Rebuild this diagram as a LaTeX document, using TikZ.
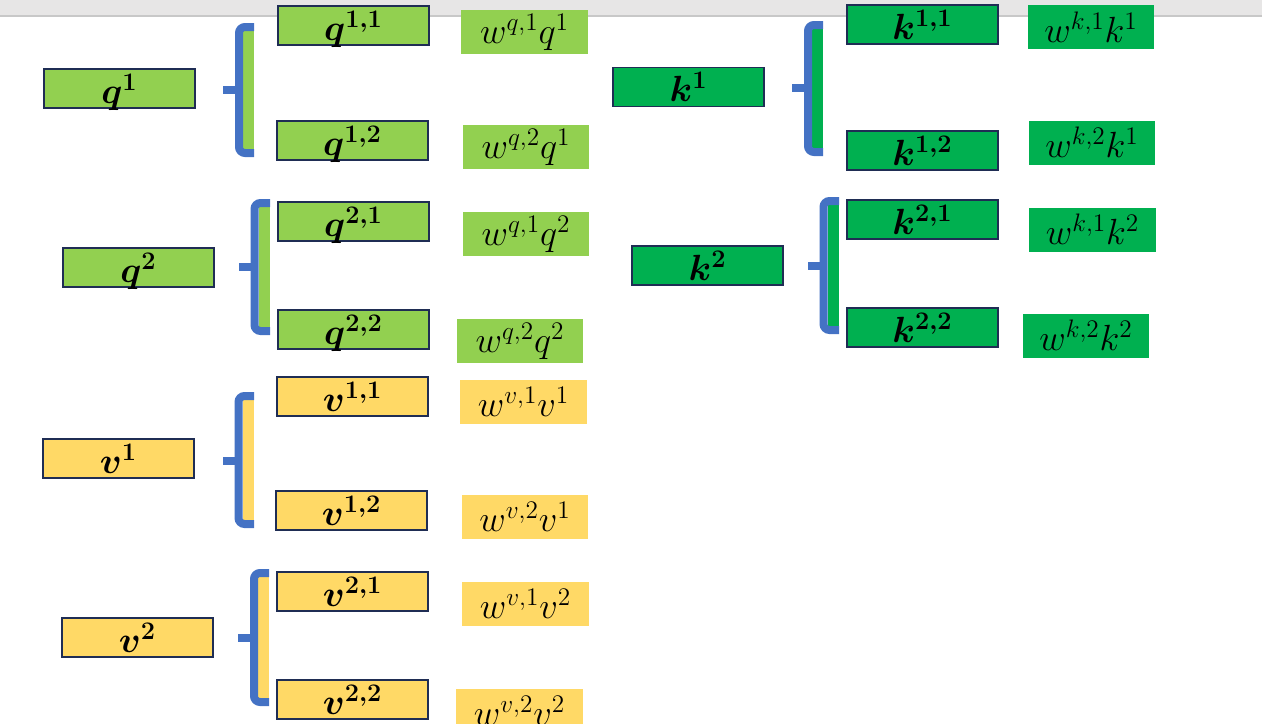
\documentclass[tikz,border=0pt]{standalone}
\usepackage{amsmath,amssymb}
\usepackage{tikz}
\usetikzlibrary{positioning}
\definecolor{qgreen}{RGB}{146,208,80}
\definecolor{kgreen}{RGB}{0,176,80}
\definecolor{vyellow}{RGB}{255,217,102}
\definecolor{braceblue}{RGB}{68,114,196}
\definecolor{boxline}{RGB}{31,45,84}
\definecolor{topgray}{RGB}{231,230,230}
\definecolor{topline}{RGB}{200,200,200}

\begin{document}
\begin{tikzpicture}[
    x=0.02cm, y=-0.02cm,
    box/.style={draw=boxline, line width=0.7pt, minimum width=3.02cm, minimum height=0.78cm, inner sep=0pt, text depth=0pt, font=\fontsize{21}{24}\selectfont},
    wlabel/.style={minimum width=2.54cm, minimum height=0.88cm, inner sep=0pt, font=\fontsize{21}{24}\selectfont},
    bracearm/.style={draw=braceblue, line width=0.16cm, rounded corners=0.12cm},
    bracetip/.style={draw=braceblue, line width=0.17cm}
]
\useasboundingbox (0,0) rectangle (1262,724);
\fill[topgray] (0,0) rectangle (1262,16);
\draw[topline, line width=0.6pt] (0,16) -- (1262,16);

% query heads
\node[box, fill=qgreen] (q1) at (119.5,88.5) {$\boldsymbol{q^{1}}$};
\node[box, fill=qgreen] (q11) at (353.5,25.5) {$\boldsymbol{q^{1,1}}$};
\node[box, fill=qgreen] (q12) at (352.5,140.5) {$\boldsymbol{q^{1,2}}$};
\node[wlabel, fill=qgreen] (wq1q1) at (524.5,32) {$w^{q,1}q^{1}$};
\node[wlabel, fill=qgreen] (wq2q1) at (526,147) {$w^{q,2}q^{1}$};

\node[box, fill=qgreen] (q2) at (138.5,267.5) {$\boldsymbol{q^{2}}$};
\node[box, fill=qgreen] (q21) at (353.5,221.5) {$\boldsymbol{q^{2,1}}$};
\node[box, fill=qgreen] (q22) at (353.5,329.5) {$\boldsymbol{q^{2,2}}$};
\node[wlabel, fill=qgreen] (wq1q2) at (526,234) {$w^{q,1}q^{2}$};
\node[wlabel, fill=qgreen] (wq2q2) at (520,341) {$w^{q,2}q^{2}$};

% value heads
\node[box, fill=vyellow] (v1) at (118.5,458.5) {$\boldsymbol{v^{1}}$};
\node[box, fill=vyellow] (v11) at (352.5,396.5) {$\boldsymbol{v^{1,1}}$};
\node[box, fill=vyellow] (v12) at (351.5,510.5) {$\boldsymbol{v^{1,2}}$};
\node[wlabel, fill=vyellow] (wv1v1) at (523.5,402) {$w^{v,1}v^{1}$};
\node[wlabel, fill=vyellow] (wv2v1) at (525,517) {$w^{v,2}v^{1}$};

\node[box, fill=vyellow] (v2) at (137.5,637.5) {$\boldsymbol{v^{2}}$};
\node[box, fill=vyellow] (v21) at (352.5,591.5) {$\boldsymbol{v^{2,1}}$};
\node[box, fill=vyellow] (v22) at (352.5,699.5) {$\boldsymbol{v^{2,2}}$};
\node[wlabel, fill=vyellow] (wv1v2) at (525.5,604) {$w^{v,1}v^{2}$};
\node[wlabel, fill=vyellow] (wv2v2) at (519.5,711) {$w^{v,2}v^{2}$};

% key heads
\node[box, fill=kgreen] (k1) at (688.5,87) {$\boldsymbol{k^{1}}$};
\node[box, fill=kgreen] (k11) at (922.5,24.5) {$\boldsymbol{k^{1,1}}$};
\node[box, fill=kgreen] (k12) at (922.5,150.5) {$\boldsymbol{k^{1,2}}$};
\node[wlabel, fill=kgreen] (wk1k1) at (1091,27) {$w^{k,1}k^{1}$};
\node[wlabel, fill=kgreen] (wk2k1) at (1092,142.5) {$w^{k,2}k^{1}$};

\node[box, fill=kgreen] (k2) at (707.5,265.5) {$\boldsymbol{k^{2}}$};
\node[box, fill=kgreen] (k21) at (922.5,219.5) {$\boldsymbol{k^{2,1}}$};
\node[box, fill=kgreen] (k22) at (922.5,327.5) {$\boldsymbol{k^{2,2}}$};
\node[wlabel, fill=kgreen] (wk1k2) at (1092.5,229.5) {$w^{k,1}k^{2}$};
\node[wlabel, fill=kgreen] (wk2k2) at (1086,335.5) {$w^{k,2}k^{2}$};

% braces
\fill[qgreen] (243,31) rectangle (254,149);
\draw[bracearm] (254,27) -- (239,27) -- (239,153) -- (254,153);
\draw[bracetip] (223,90) -- (239,90);

\fill[qgreen] (258.5,207) rectangle (270,327);
\draw[bracearm] (270,203) -- (254.5,203) -- (254.5,331) -- (270,331);
\draw[bracetip] (239,267) -- (254.5,267);

\fill[vyellow] (242.5,400) rectangle (254,520);
\draw[bracearm] (254,396) -- (238.5,396) -- (238.5,524) -- (254,524);
\draw[bracetip] (223,461) -- (238.5,461);

\fill[vyellow] (258,577) rectangle (269,698);
\draw[bracearm] (269,573) -- (254,573) -- (254,702) -- (269,702);
\draw[bracetip] (238,638) -- (254,638);

\fill[kgreen] (812,29) rectangle (823,148);
\draw[bracearm] (823,25) -- (808,25) -- (808,152) -- (823,152);
\draw[bracetip] (792,88) -- (808,88);

\fill[kgreen] (827.5,205) rectangle (839,326);
\draw[bracearm] (839,201) -- (823.5,201) -- (823.5,330) -- (839,330);
\draw[bracetip] (808,266) -- (823.5,266);
\end{tikzpicture}
\end{document}
